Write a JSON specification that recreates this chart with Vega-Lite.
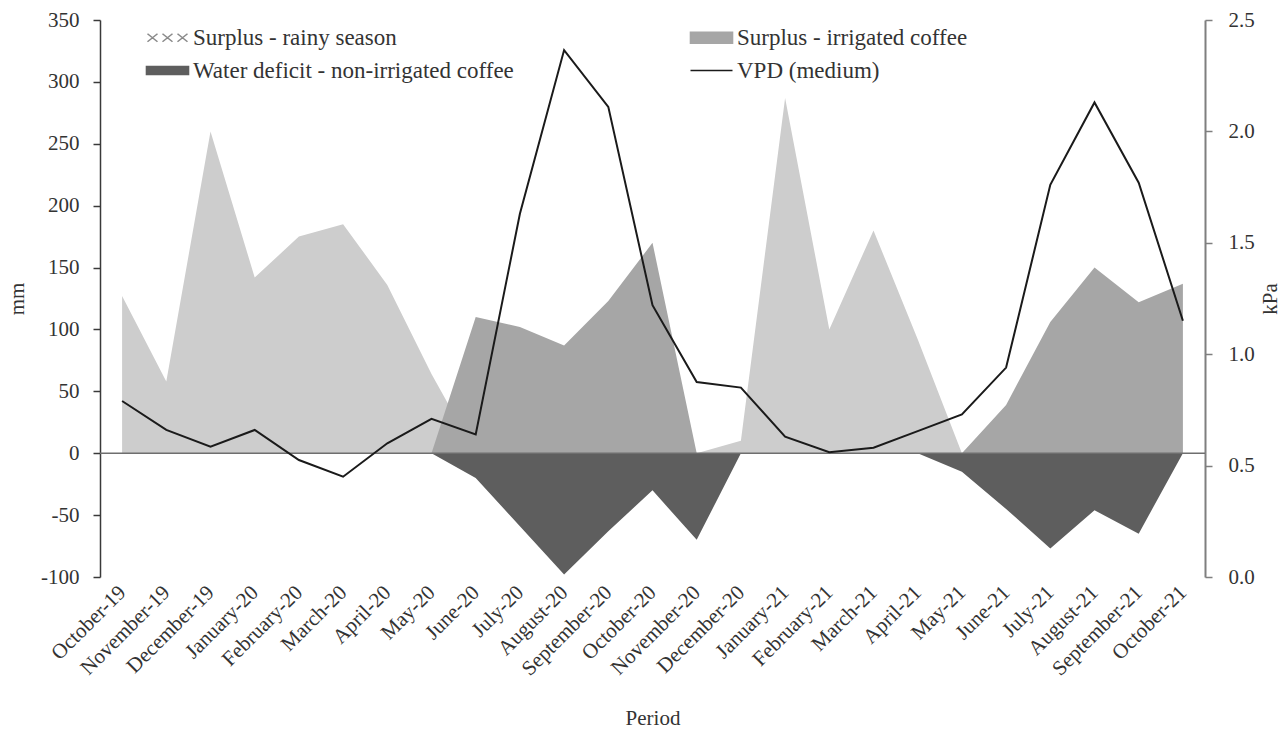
{
  "$schema": "https://vega.github.io/schema/vega-lite/v6.json",
  "width": 1105,
  "height": 557,
  "autosize": {"type": "none"},
  "padding": {"left": 100, "top": 20, "right": 81, "bottom": 156},
  "background": "white",
  "config": {
    "font": "Liberation Serif",
    "view": {"stroke": null},
    "axis": {
      "grid": false,
      "labelFont": "Liberation Serif",
      "titleFont": "Liberation Serif",
      "labelColor": "#333333",
      "titleColor": "#333333",
      "labelFontSize": 21,
      "titleFontSize": 21,
      "titleFontWeight": "normal"
    }
  },
  "data": {
    "values": [
      {"period": "October-19", "rainy": 127, "irrigated": 0, "deficit": 0, "vpd": 0.79},
      {"period": "November-19", "rainy": 58, "irrigated": 0, "deficit": 0, "vpd": 0.66},
      {"period": "December-19", "rainy": 260, "irrigated": 0, "deficit": 0, "vpd": 0.585},
      {"period": "January-20", "rainy": 142, "irrigated": 0, "deficit": 0, "vpd": 0.66},
      {"period": "February-20", "rainy": 175, "irrigated": 0, "deficit": 0, "vpd": 0.525},
      {"period": "March-20", "rainy": 185, "irrigated": 0, "deficit": 0, "vpd": 0.45},
      {"period": "April-20", "rainy": 136, "irrigated": 0, "deficit": 0, "vpd": 0.6},
      {"period": "May-20", "rainy": 64, "irrigated": 0, "deficit": 0, "vpd": 0.71},
      {"period": "June-20", "rainy": 0, "irrigated": 110, "deficit": -20, "vpd": 0.64},
      {"period": "July-20", "rainy": 0, "irrigated": 102, "deficit": -59, "vpd": 1.63},
      {"period": "August-20", "rainy": 0, "irrigated": 87, "deficit": -98, "vpd": 2.365},
      {"period": "September-20", "rainy": 0, "irrigated": 123, "deficit": -63, "vpd": 2.11},
      {"period": "October-20", "rainy": 0, "irrigated": 170, "deficit": -30, "vpd": 1.22},
      {"period": "November-20", "rainy": 0, "irrigated": 0, "deficit": -70, "vpd": 0.875},
      {"period": "December-20", "rainy": 10, "irrigated": 0, "deficit": 0, "vpd": 0.85},
      {"period": "January-21", "rainy": 287, "irrigated": 0, "deficit": 0, "vpd": 0.63},
      {"period": "February-21", "rainy": 100, "irrigated": 0, "deficit": 0, "vpd": 0.56},
      {"period": "March-21", "rainy": 180, "irrigated": 0, "deficit": 0, "vpd": 0.58},
      {"period": "April-21", "rainy": 92, "irrigated": 0, "deficit": 0, "vpd": 0.655},
      {"period": "May-21", "rainy": 0, "irrigated": 0, "deficit": -15, "vpd": 0.73},
      {"period": "June-21", "rainy": 0, "irrigated": 39, "deficit": -45, "vpd": 0.94},
      {"period": "July-21", "rainy": 0, "irrigated": 106, "deficit": -77, "vpd": 1.76},
      {"period": "August-21", "rainy": 0, "irrigated": 150, "deficit": -46, "vpd": 2.13},
      {"period": "September-21", "rainy": 0, "irrigated": 122, "deficit": -65, "vpd": 1.77},
      {"period": "October-21", "rainy": 0, "irrigated": 137, "deficit": 0, "vpd": 1.15}
    ]
  },
  "layer": [
    {
      "layer": [
        {
          "mark": {"type": "area", "opacity": 1, "interpolate": "linear", "fill": "#cdcdcd"},
          "encoding": {
            "x": {"field": "period", "type": "ordinal", "sort": null, "title": "Period",
              "scale": {"type": "point", "padding": 0.5},
              "axis": {"labelAngle": -45, "labelAlign": "right", "labelBaseline": "middle", "domain": false, "ticks": false, "labelPadding": 12, "titlePadding": 28, "labelFontSize": 21}},
            "y": {"field": "rainy", "type": "quantitative", "stack": null, "title": "mm",
              "scale": {"domain": [-100, 350], "nice": false, "zero": false},
              "axis": {"orient": "left", "values": [-100, -50, 0, 50, 100, 150, 200, 250, 300, 350], "labelExpr": "replace(datum.label, '\u2212', '-')", "domainColor": "#3a3a3a", "domainWidth": 1.5, "tickColor": "#3a3a3a", "tickWidth": 1.5, "tickSize": 7, "labelPadding": 14, "titlePadding": 13}}
          }
        },
        {
          "mark": {"type": "area", "opacity": 1, "interpolate": "linear"},
          "encoding": {
            "x": {"field": "period", "type": "ordinal", "sort": null, "title": "Period", "scale": {"type": "point", "padding": 0.5}},
            "y": {"field": "irrigated", "type": "quantitative", "stack": null, "title": "mm"},
            "color": {"datum": "Surplus - irrigated coffee",
              "scale": {
                "domain": ["Surplus - rainy season", "Surplus - irrigated coffee", "Water deficit - non-irrigated coffee", "VPD (medium)"],
                "range": ["#8a8a8a", "#a6a6a6", "#5e5e5e", "#1a1a1a"]
              },
              "legend": {
                "orient": "none", "legendX": 40, "legendY": 6, "title": null,
                "direction": "horizontal",
                "columns": 2, "columnPadding": 170, "rowPadding": 9, "padding": 0,
                "labelFont": "Liberation Serif", "labelFontSize": 23, "labelColor": "#333333", "labelLimit": 0,
                "labelOffset": 30, "symbolSize": 100, "symbolStrokeWidth": 1.6, "symbolOpacity": 1,
                "symbolType": {"expr": "datum.value === 'Surplus - rainy season' ? 'M-0.8,-0.8L1.2,0.8M-0.8,0.8L1.2,-0.8M2.2,-0.8L4.2,0.8M2.2,0.8L4.2,-0.8M5.2,-0.8L7.2,0.8M5.2,0.8L7.2,-0.8' : datum.value === 'Surplus - irrigated coffee' ? 'M-1,-1.1H7.4V1.1H-1Z' : datum.value === 'Water deficit - non-irrigated coffee' ? 'M-1,-0.8H7.4V0.8H-1Z' : 'M-1,0H7.4'"}
              }
            }
          }
        },
        {
          "mark": {"type": "area", "opacity": 1, "interpolate": "linear"},
          "encoding": {
            "x": {"field": "period", "type": "ordinal", "sort": null, "title": "Period", "scale": {"type": "point", "padding": 0.5}},
            "y": {"field": "deficit", "type": "quantitative", "stack": null, "title": "mm"},
            "color": {"datum": "Water deficit - non-irrigated coffee"}
          }
        },
        {
          "data": {"values": [{"mm": 0}]},
          "mark": {"type": "rule", "color": "#6e6e6e", "strokeWidth": 1.5},
          "encoding": {
            "y": {"field": "mm", "type": "quantitative", "title": "mm"}
          }
        }
      ]
    },
    {
      "mark": {"type": "line", "strokeWidth": 2, "interpolate": "linear"},
      "encoding": {
        "x": {"field": "period", "type": "ordinal", "sort": null, "title": "Period", "scale": {"type": "point", "padding": 0.5}},
        "y": {"field": "vpd", "type": "quantitative", "title": "kPa",
          "scale": {"domain": [0, 2.5], "nice": false, "zero": false},
          "axis": {"orient": "right", "values": [0, 0.5, 1, 1.5, 2, 2.5], "format": ".1f", "domainColor": "#7f7f7f", "domainWidth": 2, "tickColor": "#7f7f7f", "tickWidth": 1.5, "tickSize": 7, "labelPadding": 16, "titleAngle": -90, "titlePadding": 26}},
        "color": {"datum": "VPD (medium)"}
      }
    }
  ],
  "resolve": {"scale": {"y": "independent"}}
}
